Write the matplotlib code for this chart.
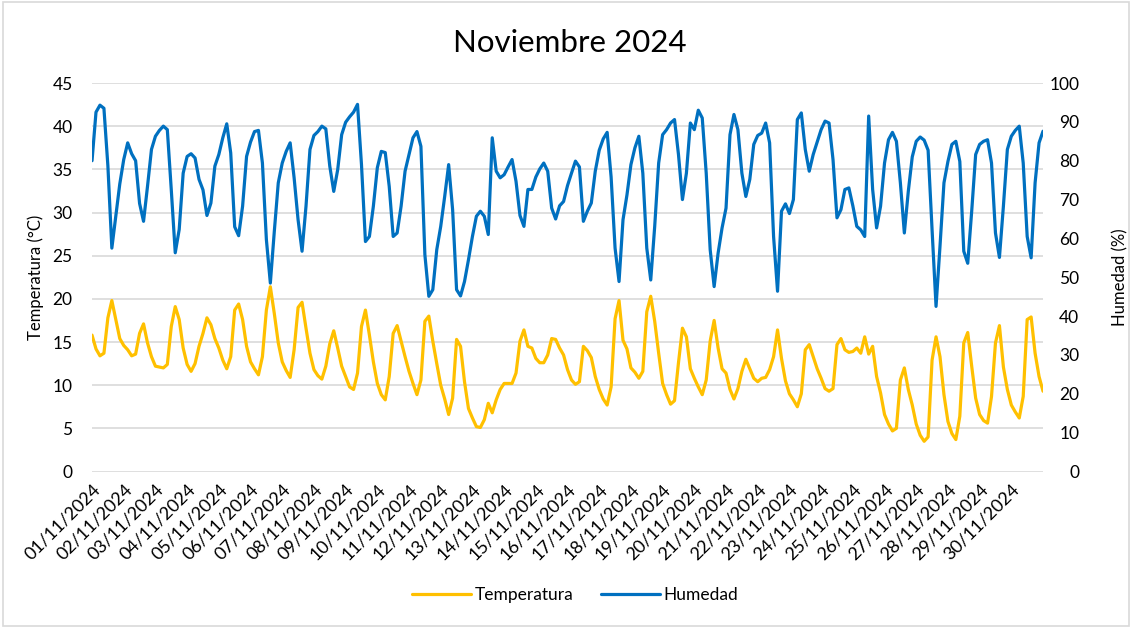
import numpy as np
import pandas as pd
import matplotlib
matplotlib.use("Agg")
import matplotlib.pyplot as plt
from matplotlib.patches import Rectangle

plt.rcParams['font.family'] = ['Lato', 'DejaVu Sans']

# lecturas cada 3 horas, 01/11/2024 00:00 -> 01/12/2024 00:00
tiempo = pd.date_range("2024-11-01", periods=241, freq="3h")

temperatura = [
    15.8, 14.2, 13.4, 13.7, 17.8, 19.8, 17.6, 15.4,
    14.6, 14.1, 13.4, 13.6, 16.0, 17.1, 14.9, 13.3,
    12.2, 12.1, 12.0, 12.4, 16.8, 19.1, 17.6, 14.3,
    12.4, 11.6, 12.5, 14.5, 16.0, 17.8, 17.0, 15.4,
    14.3, 12.9, 11.9, 13.3, 18.7, 19.4, 17.6, 14.5,
    12.7, 11.9, 11.2, 13.3, 18.7, 21.4, 18.3, 14.9,
    12.7, 11.7, 10.9, 14.1, 19.0, 19.6, 16.6, 13.7,
    11.8, 11.1, 10.7, 12.2, 14.8, 16.3, 14.3, 12.2,
    11.0, 9.8, 9.5, 11.4, 16.8, 18.7, 15.8, 12.7,
    10.2, 8.9, 8.3, 11.0, 16.0, 16.9, 15.1, 13.3,
    11.6, 10.2, 8.9, 10.6, 17.4, 18.0, 15.1, 12.5,
    10.0, 8.4, 6.6, 8.5, 15.3, 14.5, 10.4, 7.3,
    6.2, 5.2, 5.1, 6.0, 7.9, 6.8, 8.3, 9.5,
    10.2, 10.2, 10.2, 11.4, 15.1, 16.4, 14.5, 14.3,
    13.1, 12.6, 12.6, 13.5, 15.4, 15.3, 14.3, 13.5,
    11.8, 10.6, 10.1, 10.4, 14.5, 14.0, 13.2, 11.0,
    9.5, 8.4, 7.7, 9.8, 17.7, 19.8, 15.2, 14.2,
    12.0, 11.5, 10.8, 11.6, 18.5, 20.3, 17.4, 13.7,
    10.2, 8.9, 7.8, 8.2, 12.6, 16.6, 15.6, 11.9,
    10.8, 9.8, 8.9, 10.6, 15.1, 17.5, 14.3, 11.9,
    11.4, 9.5, 8.4, 9.6, 11.6, 13.0, 11.9, 10.8,
    10.4, 10.8, 10.9, 11.8, 13.3, 16.4, 13.1, 10.5,
    9.0, 8.3, 7.5, 9.0, 14.1, 14.7, 13.3, 11.9,
    10.8, 9.6, 9.3, 9.6, 14.7, 15.4, 14.1, 13.8,
    13.9, 14.3, 13.7, 15.6, 13.6, 14.5, 11.0, 9.1,
    6.6, 5.5, 4.7, 5.0, 10.6, 12.0, 9.5, 7.7,
    5.5, 4.2, 3.5, 4.0, 12.9, 15.6, 13.3, 8.9,
    5.8, 4.4, 3.7, 6.4, 14.9, 16.1, 12.2, 8.5,
    6.6, 5.9, 5.6, 8.7, 14.9, 16.9, 12.1, 9.5,
    7.7, 6.9, 6.2, 8.7, 17.6, 17.9, 13.7, 11.0,
    9.3,
]

humedad = [
    80.0, 92.5, 94.3, 93.5, 78.7, 57.5, 65.7, 74.0,
    80.3, 84.6, 81.8, 80.0, 69.0, 64.4, 73.4, 82.9,
    86.3, 87.8, 88.9, 88.0, 72.5, 56.3, 62.3, 76.8,
    81.1, 81.8, 80.7, 75.2, 72.5, 65.9, 69.1, 78.6,
    81.6, 85.9, 89.5, 82.0, 63.0, 60.7, 68.3, 81.1,
    84.8, 87.5, 87.8, 79.4, 59.7, 48.5, 61.8, 74.3,
    79.4, 82.4, 84.6, 75.6, 64.8, 56.7, 68.3, 82.9,
    86.5, 87.5, 88.9, 88.2, 78.6, 72.1, 77.7, 86.7,
    89.9, 91.3, 92.5, 94.5, 79.0, 59.2, 60.5, 68.3,
    78.2, 82.4, 82.1, 73.4, 60.5, 61.4, 68.3, 77.3,
    81.6, 85.9, 87.5, 83.7, 55.8, 45.1, 46.8, 57.1,
    63.1, 70.8, 79.0, 67.4, 46.8, 45.2, 48.9, 54.5,
    60.5, 65.7, 67.0, 65.7, 61.0, 85.9, 77.3, 75.6,
    76.4, 78.4, 80.3, 74.7, 65.9, 63.1, 72.6, 72.6,
    75.8, 77.9, 79.4, 77.3, 67.8, 65.0, 68.4, 69.5,
    73.6, 76.8, 79.9, 78.4, 64.4, 67.0, 69.1, 77.3,
    82.7, 85.6, 87.3, 75.8, 57.5, 48.9, 64.8, 71.2,
    79.0, 83.3, 86.3, 76.8, 57.5, 49.3, 63.1, 79.4,
    86.7, 88.0, 89.7, 90.6, 81.6, 70.0, 76.8, 89.7,
    88.0, 93.0, 91.0, 76.8, 57.1, 47.6, 56.2, 62.7,
    67.8, 86.7, 91.9, 88.0, 76.8, 70.8, 75.2, 84.2,
    86.5, 87.1, 89.7, 84.6, 60.5, 46.4, 67.0, 68.9,
    66.4, 70.0, 90.6, 92.3, 82.9, 77.3, 81.6, 84.8,
    88.0, 90.2, 89.7, 80.3, 65.3, 67.4, 72.6, 73.0,
    68.4, 63.1, 62.2, 60.5, 91.5, 72.6, 62.7, 68.3,
    79.4, 85.4, 87.3, 85.0, 74.3, 61.4, 72.1, 81.0,
    85.0, 86.1, 85.3, 82.7, 62.2, 42.5, 58.0, 74.3,
    79.8, 84.2, 85.0, 79.8, 56.7, 53.6, 67.0, 81.6,
    84.2, 85.0, 85.4, 79.4, 61.4, 55.1, 68.3, 82.9,
    86.3, 87.8, 88.9, 79.4, 60.5, 55.0, 74.3, 84.6,
    87.6,
]

color_temp = "#FFC000"
color_hum = "#0070C0"

fig = plt.figure(figsize=(11.32, 6.28), dpi=100)
ax = fig.add_axes([0.0813, 0.2492, 0.8401, 0.6186])
ax2 = ax.twinx()

ax.plot(tiempo, temperatura, color=color_temp, lw=2.3, label="Temperatura",
        solid_joinstyle="round", solid_capstyle="round", zorder=3)
ax2.plot(tiempo, humedad, color=color_hum, lw=2.3, label="Humedad",
         solid_joinstyle="round", solid_capstyle="round", zorder=3)

ax.set_ylim(0, 45)
ax.set_yticks(np.arange(0, 46, 5))
ax2.set_ylim(0, 100)
ax2.set_yticks(np.arange(0, 101, 10))

ax.set_xlim(tiempo[0], tiempo[-1])
dias = pd.date_range("2024-11-01", "2024-11-30", freq="D")
ax.set_xticks(dias)
ax.set_xticklabels([d.strftime("%d/%m/%Y") for d in dias], rotation=45,
                   ha="right", va="top", rotation_mode="anchor", fontsize=13,
                   color="black")

ax.grid(axis="y", color="#d9d9d9", lw=1.2)
ax.set_axisbelow(True)
for a in (ax, ax2):
    for s in a.spines.values():
        s.set_visible(False)
    a.tick_params(length=0)
ax.tick_params(axis="x", pad=7)
ax.tick_params(axis="y", labelsize=12.5, pad=14, labelcolor="black")
ax2.tick_params(axis="y", labelsize=12.5, pad=26, labelcolor="black")
for lab in ax2.get_yticklabels():
    lab.set_horizontalalignment("right")

ax.set_ylabel("Temperatura (°C)", fontsize=12, labelpad=6)
ax2.set_ylabel("Humedad (%)", fontsize=12, rotation=90, labelpad=24)

fig.text(0.503, 0.932, "Noviembre 2024", ha="center", va="center",
         fontsize=22.5, color="black")

h1, l1 = ax.get_legend_handles_labels()
h2, l2 = ax2.get_legend_handles_labels()
fig.legend(h1 + h2, l1 + l2, loc="center", bbox_to_anchor=(0.508, 0.053),
           ncol=2, frameon=False, fontsize=12.5, handlelength=3.4,
           handletextpad=0.2, columnspacing=1.6)

fig.patches.append(Rectangle((0.003, 0.003), 0.994, 0.994,
                             transform=fig.transFigure, fill=False,
                             edgecolor="#d9d9d9", lw=1.2))

fig.savefig("out.png", dpi=100)
